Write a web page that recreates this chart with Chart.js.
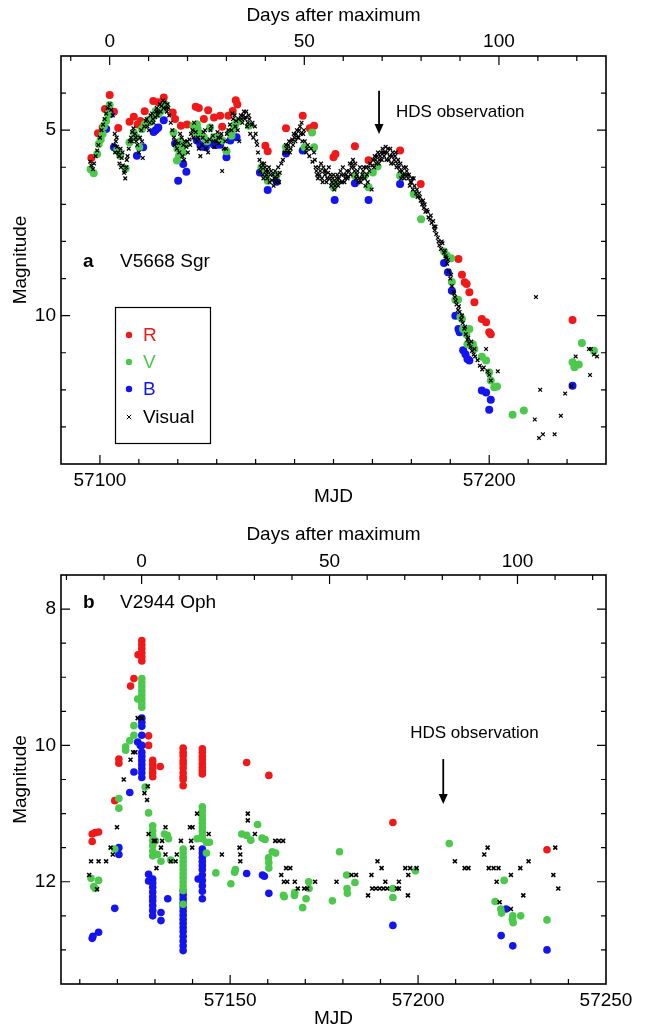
<!DOCTYPE html>
<html>
<head>
<meta charset="utf-8">
<script src="https://cdn.jsdelivr.net/npm/chart.js@4.4.0/dist/chart.umd.min.js"></script>
<style>
  body { margin: 0; background: #fff; }
  canvas { position: absolute; left: 0; }
</style>
</head>
<body>
<canvas id="chartA" width="645" height="515" style="top:0px"></canvas>
<canvas id="chartB" width="645" height="511" style="top:515px"></canvas>
<script>
// ---- panel a : V5668 Sgr  [MJD, magnitude] ----
const aPeak = 57102.5;
const aBottomLabels = [57100, 57200];
const aTopLabels = [0, 50, 100];
const aYLabels = [5, 10];

const aR = [[57097.8,5.75],[57099.5,5.08],[57100.7,4.93],[57101.3,4.43],[57102.5,4.05],[57103.6,4.5],[57104.7,4.94],
  [57107.6,4.77],[57108.7,4.64],[57109.7,4.85],[57110.4,4.75],[57111.5,4.49],[57113.7,4.21],[57115.0,4.25],[57116.4,4.12],
  [57118.7,4.52],[57119.3,4.7],[57120.8,4.88],[57122.4,4.85],[57124.6,4.37],[57125.4,4.4],[57126.7,4.7],[57127.8,4.46],
  [57129.3,4.66],[57130.9,4.61],[57131.4,4.91],[57133.0,4.61],[57134.1,4.48],[57134.9,4.19],[57135.3,4.31],[57142.5,5.42],
  [57143.1,5.57],[57147.8,4.95],[57152.1,4.61],[57153.9,4.95],[57155.0,4.88],[57160.0,5.73],[57160.5,5.64],[57165.5,5.43],
  [57169.0,5.81],[57177.1,5.55],[57182.4,6.45],[57192.1,8.47],[57193.0,8.9],[57193.7,9.1],[57194.2,9.15],[57194.9,9.37],
  [57196.2,9.64],[57198.1,10.09],[57199.2,10.18],[57200.0,10.45],[57200.4,10.5],[57221.4,10.12]];

const aV = [[57097.6,6.05],[57098.4,6.16],[57099.3,5.64],[57099.7,5.37],[57100.7,5.1],[57101.6,4.75],[57102.1,4.57],
  [57102.5,4.32],[57104.4,5.55],[57105.2,5.69],[57106.6,6.03],[57107.6,5.33],[57108.7,5.06],[57109.4,5.19],[57110.1,5.46],
  [57110.8,4.97],[57111.5,4.84],[57113.4,4.66],[57114.3,4.48],[57115.0,4.57],[57116.1,4.43],[57116.8,4.31],[57118.9,5.06],
  [57119.8,5.82],[57120.3,5.69],[57120.8,5.46],[57121.4,5.6],[57122.1,5.37],[57124.0,4.88],[57124.9,4.84],[57125.1,4.97],
  [57126.7,5.19],[57128.3,4.93],[57129.3,5.19],[57130.4,5.19],[57131.4,5.28],[57132.5,5.57],[57133.3,5.06],[57134.4,4.97],
  [57135.7,4.75],[57138.3,4.88],[57141.5,6.0],[57142.5,6.17],[57143.1,6.36],[57145.4,6.21],[57147.8,5.46],[57152.6,5.46],
  [57154.5,5.06],[57155.0,5.46],[57160.0,6.54],[57160.5,6.43],[57165.5,6.23],[57168.0,6.23],[57169.0,6.54],[57170.1,6.14],
  [57171.3,5.98],[57177.1,6.23],[57180.6,6.72],[57182.5,7.4],[57188.4,8.27],[57189.1,8.38],[57190.2,8.45],[57190.4,9.09],
  [57191.3,9.57],[57192.0,9.57],[57192.6,10.03],[57193.0,10.09],[57193.3,10.36],[57194.1,10.5],[57194.9,10.36],[57194.4,10.77],
  [57195.8,10.77],[57196.2,10.9],[57198.1,11.11],[57199.2,11.21],[57200.0,11.53],[57200.4,11.75],[57201.3,11.93],[57202.0,11.91],
  [57206.0,12.67],[57208.9,12.56],[57221.4,11.26],[57221.9,11.39],[57223.0,11.32],[57223.8,10.74],[57226.9,10.95],
  [57100.2,5.25],[57101.0,4.9],[57112.6,4.72],[57113.0,4.78],[57115.5,4.5],[57119.9,5.5],[57120.6,5.3],[57124.3,4.95],
  [57124.6,5.05],[57125.6,5.1],[57127.5,5.3],[57133.8,5.15],[57134.8,4.85]];

const aB = [[57101.6,4.97],[57102.6,4.57],[57103.6,5.46],[57109.5,5.69],[57111.1,5.46],[57114.3,5.0],[57115.0,4.93],
  [57116.4,4.73],[57119.3,5.36],[57120.1,6.36],[57121.4,5.91],[57122.2,6.12],[57124.9,5.28],[57127.2,5.46],[57128.3,5.33],
  [57129.3,5.39],[57130.9,5.39],[57132.5,5.73],[57133.5,5.28],[57135.1,5.19],[57141.1,6.14],[57143.1,6.61],[57145.4,6.39],
  [57147.8,5.63],[57152.1,5.55],[57160.3,6.88],[57165.5,6.43],[57169.0,6.88],[57177.1,6.45],[57188.4,8.58],[57189.4,8.83],
  [57190.4,9.33],[57191.3,10.0],[57192.1,10.36],[57192.4,10.45],[57193.3,10.93],[57193.9,11.04],[57194.4,11.17],[57194.9,11.21],
  [57198.1,12.02],[57199.2,12.07],[57200.4,12.27],[57200.0,12.54],[57221.4,11.89],
  [57113.8,5.05],[57114.8,4.95],[57125.8,5.4],[57126.3,5.45],[57129.8,5.4]];

const aVis = [[57097.5,5.85],[57097.8,5.95],[57098.2,6.05],[57098.5,5.9],[57098.9,5.7],[57099.3,5.55],[57099.6,5.4],
  [57100.0,5.2],[57100.4,5.0],[57100.8,4.85],[57101.2,4.7],[57101.6,4.55],[57102.0,4.4],[57102.5,4.3],[57102.9,4.45],
  [57103.3,4.6],[57103.5,5.4],[57103.8,5.1],[57104.1,5.3],[57104.4,5.45],[57104.7,5.6],[57105.0,5.9],[57105.3,5.5],
  [57105.6,5.75],[57105.9,5.95],[57106.2,6.15],[57106.5,6.3],[57106.8,6.0],[57107.1,5.7],[57107.4,5.5],[57107.7,5.3],
  [57108.0,5.2],[57108.3,5.05],[57108.6,4.95],[57109.0,5.1],[57109.3,5.3],[57109.6,5.4],[57110.0,5.6],[57110.3,5.2],
  [57110.6,5.0],[57111.0,5.75],[57111.4,4.9],[57111.8,4.75],[57112.2,4.9],[57112.6,5.0],[57113.0,4.6],[57113.4,4.55],
  [57113.8,4.8],[57114.2,4.65],[57114.6,4.4],[57114.8,4.6],[57115.0,4.5],[57115.4,4.3],[57115.6,4.5],[57115.8,4.35],
  [57116.2,4.2],[57116.4,4.4],[57116.6,4.25],[57117.0,4.4],[57117.4,4.3],[57117.8,4.6],[57118.2,4.8],[57118.6,5.0],
  [57119.0,5.2],[57119.4,5.3],[57119.8,5.5],[57120.2,5.35],[57120.6,5.1],[57121.0,5.2],[57121.4,5.4],[57121.8,5.3],
  [57122.2,5.45],[57122.6,5.6],[57123.0,5.25],[57123.4,5.1],[57123.8,5.0],[57124.2,4.8],[57124.6,5.05],[57125.0,5.3],
  [57125.4,5.5],[57125.8,5.7],[57126.2,5.4],[57126.6,5.05],[57127.0,5.0],[57127.4,5.3],[57127.8,5.6],[57128.2,5.25],
  [57128.6,4.9],[57129.0,5.15],[57129.4,5.45],[57129.8,5.3],[57130.2,5.05],[57130.6,5.35],[57131.0,5.2],[57131.4,6.1],
  [57131.8,5.5],[57132.2,5.3],[57132.6,5.1],[57133.0,5.0],[57133.4,4.85],[57133.8,5.0],[57134.2,4.7],[57134.6,4.6],
  [57135.0,4.75],[57135.4,5.0],[57135.8,5.3],[57136.2,4.6],[57136.4,4.7],[57136.6,4.8],[57137.0,4.5],[57137.2,4.7],
  [57137.4,4.65],[57137.8,4.9],[57138.0,4.8],[57138.2,4.6],[57138.6,5.1],[57139.0,4.85],[57139.4,5.2],[57139.8,4.9],
  [57140.2,5.3],[57140.6,5.6],[57141.0,5.8],[57141.4,6.0],[57141.8,6.2],[57142.2,5.9],[57142.4,6.0],[57142.6,6.1],
  [57143.0,6.3],[57143.4,6.0],[57143.6,6.4],[57143.8,6.2],[57144.0,6.1],[57144.2,6.35],[57144.6,6.5],[57145.0,6.1],
  [57145.4,6.3],[57145.8,6.0],[57146.0,6.4],[57146.2,6.15],[57146.6,5.9],[57147.0,5.8],[57147.4,5.6],[57147.8,5.4],
  [57148.2,5.6],[57148.6,5.3],[57149.0,5.5],[57149.4,5.25],[57149.8,5.1],[57150.2,5.3],[57150.6,5.0],[57151.0,5.2],
  [57151.4,4.9],[57151.8,4.8],[57152.2,5.1],[57152.6,5.3],[57153.0,5.6],[57153.4,5.4],[57153.8,5.7],[57154.2,5.5],
  [57154.6,5.85],[57155.0,5.6],[57155.4,6.0],[57155.8,6.2],[57156.0,6.3],[57156.2,6.0],[57156.6,6.1],[57157.0,6.3],
  [57157.2,6.4],[57157.4,6.0],[57157.8,6.2],[57158.0,6.1],[57158.2,6.4],[57158.6,6.15],[57159.0,6.3],[57159.2,6.2],
  [57159.4,6.5],[57159.8,6.3],[57160.2,6.6],[57160.4,6.5],[57160.6,6.4],[57161.0,6.2],[57161.4,6.3],[57161.8,6.1],
  [57162.2,6.4],[57162.6,6.2],[57163.0,6.3],[57163.4,6.1],[57163.8,6.25],[57164.2,5.9],[57164.6,6.0],[57165.0,5.8],
  [57165.4,6.1],[57165.8,6.3],[57166.2,6.1],[57166.6,6.3],[57167.0,6.4],[57167.4,6.2],[57167.8,6.0],[57168.2,6.5],
  [57168.6,6.2],[57169.0,6.0],[57169.4,5.9],[57169.8,6.6],[57170.2,5.8],[57170.6,5.7],[57171.0,5.9],[57171.4,5.6],
  [57171.8,5.8],[57172.2,5.6],[57172.6,5.5],[57173.0,5.7],[57173.4,5.45],[57173.8,5.6],[57174.2,5.8],[57174.6,5.5],
  [57175.0,5.7],[57175.4,5.9],[57175.8,5.7],[57176.0,5.6],[57176.2,6.0],[57176.6,5.8],[57177.0,6.1],[57177.4,6.3],
  [57177.8,6.2],[57178.0,6.0],[57178.4,6.2],[57178.8,6.1],[57179.0,6.2],[57179.2,6.3],[57179.6,6.5],[57180.0,6.4],
  [57180.2,6.3],[57180.4,6.6],[57180.8,6.5],[57181.2,6.7],[57181.4,6.6],[57181.6,6.8],[57182.0,6.7],[57182.2,6.8],
  [57182.4,6.9],[57182.8,7.0],[57183.0,6.9],[57183.2,7.1],[57183.4,7.0],[57183.6,7.2],[57184.0,7.15],[57184.2,7.2],
  [57184.4,7.35],[57184.8,7.4],[57185.0,7.3],[57185.2,7.5],[57185.6,7.45],[57185.8,7.6],[57186.0,7.7],[57186.2,7.6],
  [57186.4,7.8],[57186.8,7.9],[57187.0,8.0],[57187.2,8.1],[57187.6,8.2],[57187.8,8.0],[57188.0,8.05],[57188.4,8.3],
  [57188.6,8.25],[57188.8,8.4],[57189.0,8.45],[57189.2,8.6],[57189.4,8.5],[57189.6,8.8],[57190.0,9.0],[57190.2,8.9],
  [57190.4,9.2],[57190.8,9.35],[57191.0,9.4],[57191.2,9.5],[57191.4,9.6],[57191.6,9.7],[57192.0,9.85],[57192.2,9.75],
  [57192.4,9.9],[57192.8,10.1],[57193.0,10.0],[57193.2,10.2],[57193.6,10.35],[57193.8,10.3],[57194.0,10.5],[57194.4,10.65],
  [57194.6,10.6],[57194.8,10.75],[57195.2,10.85],[57195.4,10.7],[57195.6,10.95],[57196.0,11.05],[57196.2,10.9],[57196.4,11.1],
  [57197.0,11.2],[57197.6,11.35],[57198.2,11.45],[57198.6,11.4],[57199.2,10.9],[57199.6,11.5],[57200.0,11.6],[57200.4,11.75],
  [57202.2,11.5],[57211.7,12.8],[57212.0,9.5],[57212.8,13.3],[57213.1,12.0],[57213.8,13.2],[57216.8,13.2],[57218.4,12.7],
  [57219.5,12.1],[57221.1,11.9],[57222.2,11.1],[57225.6,10.9],[57225.9,11.6],[57226.1,10.9],[57226.9,11.05],[57227.7,11.1],
  [57103.9,5.6],[57104.3,5.2],[57104.9,5.7],[57105.4,6.0],[57105.8,5.6],[57106.4,6.1],[57106.9,5.8],[57108.2,5.3],
  [57109.2,5.2],[57110.8,5.3],[57112.0,4.7],[57112.8,4.8],[57113.6,4.7],[57114.4,4.5],[57117.2,4.5],[57117.6,4.4],
  [57119.2,5.4],[57120.4,5.6],[57121.2,5.7],[57121.6,5.8],[57122.4,5.3],[57123.2,5.4],[57124.0,5.2],[57125.2,5.2],
  [57126.4,5.2],[57127.2,5.5],[57128.4,5.0],[57129.2,5.3],[57130.4,5.2],[57131.2,5.1],[57132.4,5.5],[57134.0,4.55],
  [57134.8,4.9],[57135.6,4.7],[57136.8,4.6],[57137.6,4.5],[57138.4,4.7],[57139.2,4.8],[57140.0,5.1],[57140.4,5.4],
  [57141.2,6.1],[57141.6,5.9],[57142.0,6.3],[57142.8,6.2],[57143.2,6.1],[57144.4,6.2],[57144.8,6.3],[57145.2,6.4],
  [57145.6,6.2],[57148.0,5.5],[57148.4,5.4],[57148.8,5.6],[57149.2,5.3],[57149.6,5.4],[57150.0,5.2],[57150.4,5.1],
  [57150.8,5.2],[57151.2,5.0],[57151.6,5.1],[57152.0,5.3],[57152.4,5.0],[57153.2,5.5],[57155.2,5.8],[57155.6,6.1],
  [57156.4,6.2],[57156.8,5.9],[57157.6,6.1],[57158.4,6.3],[57158.8,6.0],[57159.6,6.4],[57160.0,6.2],[57160.8,6.3],
  [57161.2,6.5],[57161.6,6.4],[57162.0,6.2],[57162.4,6.0],[57162.8,6.4],[57163.2,6.2],[57163.6,6.3],[57164.0,6.1],
  [57164.4,6.2],[57164.8,5.9],[57165.2,6.0],[57165.6,5.9],[57166.0,6.2],[57166.4,6.4],[57166.8,6.0],[57167.2,6.3],
  [57167.6,6.1],[57168.0,6.3],[57168.4,6.0],[57168.8,6.4],[57169.2,6.1],[57170.0,5.95],[57170.4,6.0],[57170.8,5.8],
  [57171.2,5.7],[57171.6,5.9],[57172.0,5.7],[57172.4,5.8],[57172.8,5.6],[57173.2,5.6],[57173.6,5.8],[57174.0,5.5],
  [57174.4,5.7],[57174.8,5.9],[57175.2,5.6],[57175.6,5.8],[57176.4,5.9],[57176.8,6.0],[57177.2,5.9],[57177.6,6.1],
  [57178.2,6.3],[57178.6,6.0],[57179.4,6.2],[57179.8,6.4],[57180.6,6.3]];

// ---- panel b : V2944 Oph ----
const bPeak = 57126.45;
const bBottomLabels = [57150, 57200, 57250];
const bTopLabels = [0, 50, 100];
const bYLabels = [8, 10, 12];

const bR = [[57113.3,11.3],[57113.3,11.41],[57114.1,11.28],[57115.0,11.27],[57119.3,10.81],[57120.4,10.2],[57120.4,10.26],
  [57123.5,9.13],[57124.4,9.02],[57125.5,8.67],[57126.5,8.46],[57126.5,8.52],[57126.5,8.58],[57126.5,8.64],[57126.5,8.7],
  [57126.5,8.76],[57128.3,9.86],[57128.3,10.0],[57129.4,10.22],[57129.4,10.28],[57129.4,10.34],[57129.4,10.4],[57129.4,10.46],
  [57131.4,10.31],[57137.5,10.04],[57137.5,10.1],[57137.5,10.15],[57137.5,10.22],[57137.5,10.27],[57137.5,10.33],[57137.5,10.4],
  [57137.5,10.46],[57137.5,10.5],[57137.5,10.59],[57142.6,10.05],[57142.6,10.1],[57142.6,10.16],[57142.6,10.21],[57142.6,10.27],
  [57142.6,10.32],[57142.6,10.37],[57142.6,10.42],[57154.4,10.25],[57160.3,10.44],[57193.3,11.13],[57234.3,11.53]];

const bV = [[57113.0,11.95],[57113.7,12.07],[57114.1,12.1],[57115.0,11.98],[57119.3,11.52],[57120.4,10.78],[57120.4,10.92],
  [57122.2,10.07],[57122.2,10.02],[57123.3,9.93],[57124.4,9.71],[57124.4,9.85],[57125.4,9.32],[57126.5,9.02],[57126.5,9.08],
  [57126.5,9.14],[57126.5,9.2],[57126.5,9.26],[57126.5,9.32],[57126.5,9.38],[57126.5,9.44],[57127.4,10.61],[57128.3,10.99],
  [57129.4,11.18],[57129.4,11.25],[57129.4,11.32],[57129.4,11.4],[57129.4,11.47],[57129.4,11.55],[57129.4,11.62],[57130.1,11.4],
  [57130.7,11.6],[57131.6,11.7],[57132.5,11.3],[57133.3,11.32],[57133.6,11.37],[57134.2,11.68],[57137.5,11.52],[57137.5,11.58],
  [57137.5,11.64],[57137.5,11.7],[57137.5,11.76],[57137.5,11.82],[57137.5,11.88],[57137.5,11.94],[57137.5,12.0],[57137.5,12.06],
  [57137.5,12.13],[57137.5,12.33],[57142.6,10.9],[57142.6,10.96],[57142.6,11.02],[57142.6,11.08],[57142.6,11.14],[57142.6,11.2],
  [57142.6,11.26],[57142.6,11.32],[57142.6,11.37],[57141.2,11.37],[57143.7,11.42],[57144.5,11.42],[57143.7,11.58],[57146.2,11.87],
  [57150.2,12.03],[57151.2,11.86],[57151.4,11.82],[57153.1,11.3],[57154.4,11.32],[57155.5,11.39],[57157.3,11.16],[57158.5,11.36],
  [57159.3,11.38],[57160.2,11.65],[57160.3,11.72],[57160.3,11.8],[57161.2,11.56],[57162.1,11.58],[57164.2,12.2],[57164.4,12.22],
  [57167.1,12.2],[57167.2,12.16],[57169.3,12.38],[57170.2,12.25],[57170.9,12.0],[57171.0,12.1],[57177.2,12.28],[57179.1,11.56],
  [57181.0,11.9],[57181.1,12.1],[57181.2,12.17],[57183.2,12.01],[57193.3,12.1],[57193.3,12.23],[57199.3,11.84],[57208.3,11.44],
  [57220.5,12.29],[57222.0,12.4],[57222.2,12.46],[57222.9,11.98],[57225.1,12.55],[57225.3,12.6],[57225.2,12.5],[57227.3,12.5],
  [57234.3,12.56]];

const bB = [[57113.3,12.83],[57113.5,12.8],[57115.0,12.74],[57119.3,12.39],[57120.4,11.5],[57120.4,11.6],[57123.3,10.69],
  [57124.4,10.39],[57125.4,9.95],[57126.1,10.0],[57126.5,9.6],[57126.5,9.66],[57126.5,9.72],[57126.5,9.85],[57126.5,10.0],
  [57126.5,10.1],[57126.5,10.16],[57126.5,10.22],[57126.5,10.28],[57126.5,10.34],[57126.5,10.4],[57126.5,10.47],[57128.3,11.89],
  [57128.3,11.99],[57129.4,11.96],[57129.4,12.02],[57129.4,12.08],[57129.4,12.15],[57129.4,12.22],[57129.4,12.28],[57129.4,12.35],
  [57129.4,12.42],[57129.4,12.5],[57131.6,12.45],[57131.6,12.57],[57133.4,12.25],[57137.5,12.13],[57137.5,12.19],[57137.5,12.25],
  [57137.5,12.31],[57137.5,12.37],[57137.5,12.43],[57137.5,12.49],[57137.5,12.55],[57137.5,12.61],[57137.5,12.67],[57137.5,12.73],
  [57137.5,12.8],[57137.5,12.87],[57137.5,12.94],[57137.5,13.01],[57141.5,11.96],[57142.6,11.52],[57142.6,11.58],[57142.6,11.64],
  [57142.6,11.7],[57142.6,11.76],[57142.6,11.82],[57142.6,11.9],[57142.6,11.98],[57142.6,12.06],[57142.6,12.14],[57142.6,12.25],
  [57154.4,11.88],[57158.6,11.9],[57159.1,11.92],[57160.3,12.17],[57193.3,12.64],[57222.1,12.79],[57223.4,12.4],[57225.2,12.94],
  [57234.3,13.0]];

const bVis = [[57112.5,11.9],[57113.0,11.7],[57115.0,11.7],[57117.0,11.7],[57114.6,12.11],[57118.2,11.5],[57118.8,11.6],
  [57119.9,11.2],[57121.7,10.5],[57123.5,10.21],[57124.2,10.1],[57124.8,10.1],[57125.4,9.6],[57126.5,9.6],[57127.2,10.7],
  [57128.1,10.6],[57127.9,10.8],[57128.3,11.3],[57129.7,11.4],[57130.1,11.4],[57130.4,11.8],[57131.6,11.5],[57131.9,11.4],
  [57132.8,11.2],[57132.8,11.6],[57134.2,11.7],[57135.8,11.6],[57135.5,11.7],[57136.9,11.4],[57139.6,11.4],[57139.9,11.5],
  [57139.3,11.2],[57140.0,11.2],[57141.2,11.0],[57144.3,11.3],[57147.8,11.6],[57152.5,11.5],[57152.7,11.6],[57152.7,11.7],
  [57154.7,11.0],[57154.7,11.1],[57156.6,11.3],[57162.0,11.4],[57163.0,11.4],[57164.1,11.4],[57163.6,11.9],[57164.9,11.8],
  [57166.0,11.8],[57164.3,12.0],[57165.2,12.0],[57167.2,12.0],[57168.0,12.1],[57169.7,12.1],[57170.5,12.1],[57172.6,12.0],
  [57178.3,12.0],[57182.3,11.9],[57183.5,11.9],[57186.7,12.2],[57187.6,11.9],[57187.8,12.1],[57188.8,12.1],[57189.8,12.1],
  [57190.8,12.1],[57191.8,12.1],[57189.2,11.7],[57190.3,11.8],[57191.3,12.0],[57194.9,12.0],[57194.4,12.1],[57194.9,12.1],
  [57196.6,11.8],[57197.9,11.8],[57197.4,11.9],[57197.3,12.2],[57199.6,11.8],[57209.8,11.7],[57212.4,11.8],[57213.4,11.8],
  [57217.6,11.6],[57218.5,11.5],[57218.8,11.8],[57220.1,11.8],[57221.4,11.8],[57220.9,12.0],[57224.7,11.9],[57224.7,12.4],
  [57221.7,12.3],[57227.2,11.8],[57228.0,12.2],[57229.4,11.7],[57236.5,11.5],[57236.0,11.9],[57237.3,12.1]];

const RED = '#f01818', GREEN = '#4cc84c', BLUE = '#1414f0';
const FONT = "'Liberation Sans', Arial, sans-serif";
Chart.defaults.font.family = FONT;
Chart.defaults.font.size = 19;
Chart.defaults.color = '#000';

function pts(arr) { return arr.map(p => ({ x: p[0], y: p[1] })); }
function near(list, v) { return list.some(l => Math.abs(l - v) < 1e-6); }

// ticks every `step` inside [min, max]
function stepTicks(sc, step) {
  const out = [];
  for (let v = Math.ceil(sc.min / step - 1e-9) * step; v <= sc.max + 1e-9; v += step) {
    out.push({ value: Math.round(v * 1000) / 1000 });
  }
  sc.ticks = out;
}

function drawCross(ctx, x, y, r) {
  ctx.beginPath();
  ctx.moveTo(x - r, y - r); ctx.lineTo(x + r, y + r);
  ctx.moveTo(x - r, y + r); ctx.lineTo(x + r, y - r);
  ctx.stroke();
}

// inward ticks, frame, panel label, arrow, legend
const panelPlugin = {
  id: 'panel',
  afterDatasetsDraw(chart, args, o) {
    const ctx = chart.ctx, a = chart.chartArea, s = chart.scales;
    ctx.save();
    ctx.strokeStyle = '#000';
    ctx.lineWidth = 1.2;
    ctx.beginPath();
    s.x.ticks.forEach(t => {
      const p = s.x.getPixelForValue(t.value);
      if (p < a.left + 1 || p > a.right - 1) return;
      const len = near(o.xLab, t.value) ? 9 : 5;
      ctx.moveTo(p, a.bottom); ctx.lineTo(p, a.bottom - len);
    });
    s.x2.ticks.forEach(t => {
      const p = s.x2.getPixelForValue(t.value);
      if (p < a.left + 1 || p > a.right - 1) return;
      const len = near(o.topLab, t.value) ? 9 : 5;
      ctx.moveTo(p, a.top); ctx.lineTo(p, a.top + len);
    });
    s.y.ticks.forEach(t => {
      const p = s.y.getPixelForValue(t.value);
      if (p < a.top + 1 || p > a.bottom - 1) return;
      const len = near(o.yLab, t.value) ? 9 : 5;
      ctx.moveTo(a.left, p); ctx.lineTo(a.left + len, p);
      ctx.moveTo(a.right, p); ctx.lineTo(a.right - len, p);
    });
    ctx.stroke();

    ctx.lineWidth = 1.6;
    ctx.strokeRect(a.left, a.top, a.right - a.left, a.bottom - a.top);

    // panel tag
    ctx.fillStyle = '#000';
    ctx.textBaseline = 'middle';
    ctx.textAlign = 'left';
    ctx.font = 'bold 19px ' + FONT;
    ctx.fillText(o.tag.letter, o.tag.x, o.tag.y);
    ctx.font = '19px ' + FONT;
    ctx.fillText(o.tag.name, o.tag.nameX, o.tag.y);

    // HDS arrow
    const ax = s.x.getPixelForValue(o.arrow.mjd);
    const y1 = s.y.getPixelForValue(o.arrow.from);
    const y2 = s.y.getPixelForValue(o.arrow.to);
    ctx.lineWidth = 1.8;
    ctx.beginPath();
    ctx.moveTo(ax, y1); ctx.lineTo(ax, y2 - 8);
    ctx.stroke();
    ctx.beginPath();
    ctx.moveTo(ax - 4.5, y2 - 10); ctx.lineTo(ax + 4.5, y2 - 10); ctx.lineTo(ax, y2);
    ctx.closePath(); ctx.fill();
    ctx.font = '17px ' + FONT;
    ctx.fillText('HDS observation', ax + o.arrow.dx, o.arrow.ty);

    // legend box
    if (o.legend) {
      const L = o.legend;
      ctx.lineWidth = 1.2;
      ctx.strokeRect(L.x, L.y, L.w, L.h);
      ctx.font = '19px ' + FONT;
      L.rows.forEach(r => {
        ctx.fillStyle = r.color;
        ctx.strokeStyle = r.color;
        if (r.cross) {
          ctx.lineWidth = 1;
          drawCross(ctx, L.mx, r.y, 2.2);
        } else {
          ctx.beginPath(); ctx.arc(L.mx, r.y, 3.2, 0, Math.PI * 2); ctx.fill();
        }
        ctx.fillText(r.text, L.tx, r.y + 1);
      });
    }
    ctx.restore();
  }
};

function panel(id, o) {
  const dot = (label, data, color) => ({
    label, data: pts(data), pointStyle: 'circle', pointRadius: o.dotR, pointBorderWidth: 0,
    pointBackgroundColor: color, pointBorderColor: color
  });
  return new Chart(document.getElementById(id), {
    type: 'scatter',
    data: {
      datasets: [
        { label: 'Visual', data: pts(o.vis), pointStyle: 'crossRot', pointRadius: o.crossR,
          pointBorderWidth: o.crossW, pointBorderColor: '#000', pointBackgroundColor: '#000' },
        dot('V', o.V, GREEN),
        dot('B', o.B, BLUE),
        dot('R', o.R, RED)
      ]
    },
    options: {
      responsive: false,
      animation: false,
      events: [],
      layout: { padding: { left: 0, right: 39, top: 0, bottom: 0 } },
      plugins: {
        legend: { display: false },
        tooltip: { enabled: false },
        panel: o.deco
      },
      scales: {
        x: {
          type: 'linear', position: 'bottom', min: o.xMin, max: o.xMax,
          grid: { display: false, drawTicks: false }, border: { display: false },
          afterBuildTicks: sc => stepTicks(sc, 10),
          ticks: { padding: 5.6, maxRotation: 0, autoSkip: false,
                   callback: v => near(o.deco.xLab, v) ? String(v) : '' },
          title: { display: true, text: 'MJD', padding: { top: 0, bottom: o.mjdPad } },
          afterFit: sc => { sc.height = o.h - o.plotBottom; sc.paddingLeft = 0; sc.paddingRight = 0; }
        },
        x2: {
          type: 'linear', position: 'top', min: o.xMin - o.peak, max: o.xMax - o.peak,
          grid: { display: false, drawTicks: false }, border: { display: false },
          afterBuildTicks: sc => stepTicks(sc, 10),
          ticks: { padding: o.topTickPad, maxRotation: 0, autoSkip: false,
                   callback: v => near(o.deco.topLab, v) ? String(v) : '' },
          title: { display: true, text: 'Days after maximum', padding: { top: o.topTitlePad, bottom: 0 } },
          afterFit: sc => { sc.height = o.plotTop; sc.paddingLeft = 0; sc.paddingRight = 0; }
        },
        y: {
          type: 'linear', position: 'left', reverse: true, min: o.yMin, max: o.yMax,
          grid: { display: false, drawTicks: false }, border: { display: false },
          afterBuildTicks: sc => stepTicks(sc, o.yStep),
          ticks: { padding: 5, autoSkip: false,
                   callback: v => near(o.deco.yLab, v) ? String(v) : '' },
          title: { display: true, text: 'Magnitude', padding: { top: 9.6, bottom: 0 } },
          afterFit: sc => { sc.width = 61; sc.paddingTop = 0; sc.paddingBottom = 0; }
        }
      }
    },
    plugins: [panelPlugin]
  });
}

panel('chartA', {
  R: aR, V: aV, B: aB, vis: aVis, peak: aPeak,
  xMin: 57090, xMax: 57230, yMin: 3, yMax: 14, yStep: 1,
  h: 515, plotTop: 56, plotBottom: 464, mjdPad: 6.6, topTickPad: 2.9, topTitlePad: 4.6,
  dotR: 4, crossR: 2.6, crossW: 1.25,
  deco: {
    xLab: aBottomLabels, topLab: aTopLabels, yLab: aYLabels,
    tag: { letter: 'a', name: 'V5668 Sgr', x: 83, nameX: 120, y: 262 },
    arrow: { mjd: 57171.7, from: 3.94, to: 5.1, dx: 17, ty: 112 },
    legend: { x: 115.5, y: 307.5, w: 95, h: 136, mx: 129, tx: 143,
      rows: [ { text: 'R', color: RED, y: 335 }, { text: 'V', color: GREEN, y: 362 },
              { text: 'B', color: BLUE, y: 389 }, { text: 'Visual', color: '#000', y: 417, cross: true } ] }
  }
});

panel('chartB', {
  R: bR, V: bV, B: bB, vis: bVis, peak: bPeak,
  xMin: 57105, xMax: 57250, yMin: 7.5, yMax: 13.5, yStep: 0.5,
  h: 511, plotTop: 60, plotBottom: 469, mjdPad: -4.4, topTickPad: 1.9, topTitlePad: 8.6,
  dotR: 3.8, crossR: 2.8, crossW: 1.6,
  deco: {
    xLab: bBottomLabels, topLab: bTopLabels, yLab: bYLabels,
    tag: { letter: 'b', name: 'V2944 Oph', x: 83, nameX: 120, y: 88 },
    arrow: { mjd: 57206.7, from: 10.2, to: 10.86, dx: -33, ty: 218 },
    legend: null
  }
});
</script>
</body>
</html>
